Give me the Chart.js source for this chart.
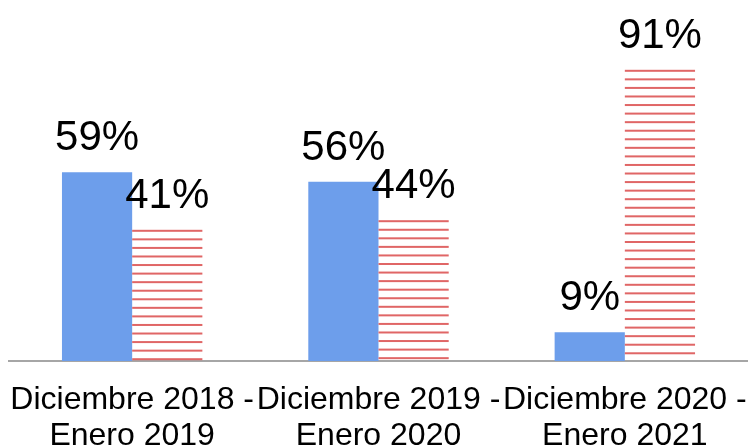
<!DOCTYPE html>
<html>
<head>
<meta charset="utf-8">
<script src="https://cdn.jsdelivr.net/npm/chart.js@4.4.1/dist/chart.umd.min.js"></script>
<style>
  html, body { margin: 0; padding: 0; background: #fff; }
  #wrap { width: 748px; height: 448px; position: relative; }
</style>
</head>
<body>
<div id="wrap"><canvas id="chart"></canvas></div>
<script>
// periods on the x axis (two-line labels)
const periods = [
    ['Diciembre 2018 -', 'Enero 2019'],
    ['Diciembre 2019 -', 'Enero 2020'],
    ['Diciembre 2020 -', 'Enero 2021']
];
// the two shares per period, in percent
const blueShare = [59, 56, 9];
const redShare = [41, 44, 91];

const FONT = '"Liberation Sans", Arial, sans-serif';
const BLUE = '#6d9eeb';
const RED = '#e06666';

// draws the horizontal stripes inside the red bars, and the % labels
const barDecor = {
    id: 'barDecor',
    afterDatasetsDraw(chart) {
        const ctx = chart.ctx;
        ctx.save();
        chart.data.datasets.forEach((ds, di) => {
            const meta = chart.getDatasetMeta(di);
            meta.data.forEach((bar, i) => {
                const half = bar.width / 2;
                if (ds.striped) {
                    ctx.fillStyle = RED;
                    const step = 8.56;
                    for (let y = bar.y; y < bar.base - 1; y += step) {
                        ctx.fillRect(bar.x - half, y, bar.width, 2);
                    }
                }
                ctx.fillStyle = '#000';
                ctx.font = '42px ' + FONT;
                ctx.textAlign = 'center';
                ctx.textBaseline = 'alphabetic';
                ctx.fillText(ds.data[i] + '%', bar.x, bar.y - 22);
            });
        });
        ctx.restore();
    }
};

new Chart(document.getElementById('chart'), {
    type: 'bar',
    data: {
        labels: periods,
        datasets: [
            {
                label: 'A',
                data: blueShare,
                backgroundColor: BLUE,
                borderWidth: 0,
                categoryPercentage: 0.57,
                barPercentage: 1.0
            },
            {
                label: 'B',
                data: redShare,
                backgroundColor: 'rgba(255,255,255,0)',
                borderWidth: 0,
                striped: true,
                categoryPercentage: 0.57,
                barPercentage: 1.0
            }
        ]
    },
    options: {
        responsive: true,
        maintainAspectRatio: false,
        animation: false,
        layout: { padding: { top: 41, left: 9, right: 0, bottom: 0 } },
        plugins: {
            legend: { display: false },
            tooltip: { enabled: false },
            title: { display: false }
        },
        scales: {
            x: {
                grid: { display: false, drawTicks: true, tickLength: 21 },
                border: { display: true, color: '#a6a6a6', width: 2 },
                ticks: {
                    color: '#000',
                    font: { family: FONT, size: 32, lineHeight: 1.12 },
                    padding: 0,
                    maxRotation: 0,
                    autoSkip: false
                },
                afterFit(scale) {
                    scale.height = 87;
                }
            },
            y: {
                display: false,
                min: 0,
                max: 100
            }
        }
    },
    plugins: [barDecor]
});
</script>
</body>
</html>
